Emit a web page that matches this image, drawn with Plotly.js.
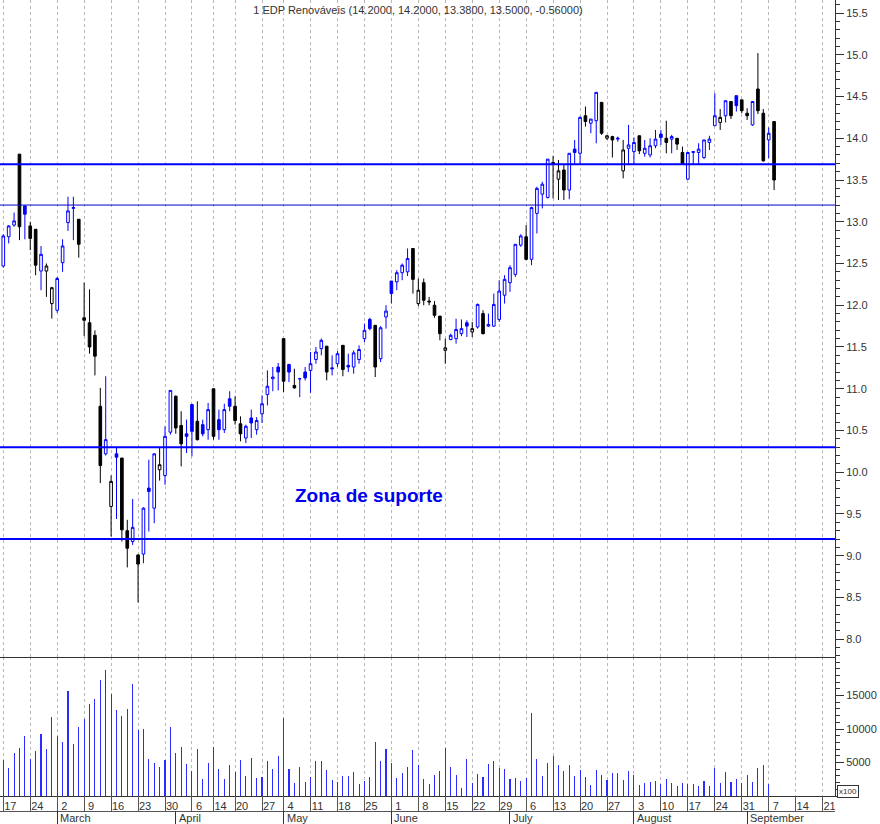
<!DOCTYPE html>
<html><head><meta charset="utf-8">
<script src="https://cdn.plot.ly/plotly-3.0.1.min.js"></script>
<style>html,body{margin:0;padding:0;background:#fff}#chart{width:880px;height:824px}</style>
</head><body><div id="chart"></div>
<script>
// ---- data: one entry per trading day, 17 Feb 2020 .. 8 Sep 2020 ----
const openP = [12.47,12.82,12.96,13.81,13.19,12.95,12.91,12.41,12.41,12.02,
11.94,12.51,12.99,13.16,13.03,11.85,11.79,11.64,10.79,10.22,
9.59,10.22,10.17,9.30,9.17,9.01,9.02,9.81,9.57,10.03,
9.96,10.48,10.91,10.56,10.46,10.81,10.61,10.57,10.51,11.00,
10.63,10.51,10.88,10.79,10.58,10.41,10.65,10.51,10.70,10.93,
11.12,11.26,11.60,11.29,11.04,11.12,11.20,11.22,11.35,11.48,
11.51,11.25,11.30,11.52,11.28,11.26,11.35,11.60,11.83,11.76,
11.36,11.86,12.29,12.28,12.39,12.40,12.68,12.02,12.27,12.05,
12.00,11.87,11.46,11.59,11.60,11.66,11.79,11.68,11.74,11.90,
11.75,11.75,11.83,12.12,12.27,12.37,12.72,12.82,12.55,13.10,
13.33,13.29,13.71,13.51,13.62,13.38,13.87,13.82,14.27,14.18,
14.21,14.43,14.00,14.02,13.99,13.61,13.88,13.84,14.03,13.82,
13.80,13.91,14.05,14.00,13.99,14.00,13.83,13.51,13.83,13.83,
13.77,13.95,14.15,14.19,14.27,14.44,14.51,14.46,14.30,14.16,
14.59,14.30,13.98,14.20];
const highP = [12.85,12.96,13.11,13.81,13.19,13.00,12.91,12.71,12.50,12.22,
12.34,12.79,13.30,13.30,13.03,12.27,12.19,11.70,11.01,11.15,
9.96,10.30,10.17,9.43,9.68,9.01,9.58,10.15,10.23,10.30,
10.55,10.98,10.92,10.73,10.63,10.82,10.85,10.63,10.83,11.00,
10.75,10.82,10.97,10.91,10.67,10.57,10.75,10.66,10.92,11.22,
11.26,11.31,11.60,11.30,11.24,11.13,11.26,11.44,11.50,11.60,
11.51,11.40,11.45,11.52,11.42,11.46,11.52,11.78,11.85,11.76,
11.75,12.00,12.29,12.42,12.50,12.68,12.68,12.32,12.32,12.10,
12.05,11.87,11.60,11.66,11.84,11.83,11.82,11.80,12.02,11.94,
11.90,12.14,12.30,12.36,12.48,12.73,12.85,12.96,13.18,13.42,
13.48,13.75,13.79,13.74,13.68,13.82,13.98,14.26,14.38,14.23,
14.55,14.43,14.04,14.03,14.02,13.98,14.16,14.01,14.03,13.98,
14.00,14.10,14.10,14.21,14.04,14.00,13.90,13.83,13.84,13.94,
13.98,14.03,14.54,14.35,14.45,14.44,14.51,14.46,14.36,14.44,
15.02,14.35,14.13,14.20];
const lowP = [12.45,12.74,12.94,12.78,12.79,12.66,12.36,12.18,12.10,11.84,
11.91,12.40,12.89,12.78,12.57,11.63,11.42,11.16,9.87,10.20,
9.23,9.44,9.17,8.86,9.13,8.44,8.91,9.29,9.39,9.90,
9.85,10.45,10.46,10.07,10.23,10.19,10.38,10.43,10.39,10.39,
10.39,10.47,10.73,10.57,10.37,10.35,10.41,10.45,10.59,10.80,
10.97,10.98,10.96,11.08,11.00,10.90,11.10,10.95,11.30,11.40,
11.10,11.16,11.26,11.15,11.20,11.18,11.30,11.56,11.70,11.14,
11.32,11.72,12.02,12.18,12.30,12.35,12.14,11.99,12.00,12.00,
11.85,11.58,11.30,11.58,11.54,11.63,11.62,11.62,11.72,11.65,
11.74,11.74,11.80,12.02,12.16,12.34,12.70,12.54,12.48,12.86,
13.16,13.28,13.28,13.26,13.26,13.27,13.68,13.68,14.14,14.06,
13.94,14.04,13.98,13.77,13.96,13.52,13.69,13.69,13.81,13.78,
13.77,13.88,13.92,13.82,13.82,13.86,13.68,13.50,13.69,13.69,
13.75,13.86,14.15,14.10,14.19,14.23,14.32,14.30,14.22,14.15,
14.29,13.72,13.76,13.38];
const closeP = [12.83,12.95,13.01,12.94,13.09,12.80,12.48,12.61,12.47,12.21,
12.32,12.71,13.13,13.17,12.73,11.82,11.50,11.39,10.08,10.39,
9.89,10.18,9.31,9.09,9.34,8.90,9.57,9.77,10.22,10.09,
10.43,10.98,10.53,10.34,10.43,10.49,10.39,10.46,10.75,10.43,
10.51,10.75,10.79,10.62,10.46,10.55,10.59,10.62,10.82,11.03,
11.14,11.20,11.09,11.20,11.01,11.12,11.13,11.30,11.44,11.58,
11.20,11.24,11.42,11.23,11.26,11.43,11.47,11.70,11.72,11.26,
11.73,11.93,12.14,12.39,12.48,12.56,12.31,12.18,12.06,12.04,
11.88,11.66,11.49,11.64,11.71,11.72,11.75,11.72,12.01,11.66,
11.77,12.01,12.17,12.31,12.45,12.73,12.83,12.55,13.17,13.40,
13.45,13.75,13.70,13.61,13.38,13.82,13.83,14.25,14.20,14.23,
14.55,14.06,14.03,13.98,14.00,13.86,13.92,13.95,13.85,13.88,
13.91,13.99,14.01,13.95,14.02,13.93,13.69,13.83,13.84,13.87,
13.98,13.99,14.27,14.25,14.45,14.27,14.39,14.33,14.27,14.44,
14.33,13.73,14.06,13.50];
const volume = [5300,4150,6400,7150,8980,5550,6740,9280,7040,11720,
8980,8030,15600,7740,10320,11520,13750,14450,17340,18830,
15200,12860,12010,13010,16740,9880,10020,5550,5000,4300,
5400,10320,6400,7340,4850,3760,6990,2610,5000,7290,
4050,2610,4600,3510,5300,3010,5600,2760,2910,5150,
4050,5990,11570,4050,1870,4300,2160,2910,5150,5150,
3910,2410,2110,3010,3010,3610,1770,2260,2860,8030,
5150,7040,5000,2760,3460,4300,6890,4650,2560,1720,
3110,3760,7140,4300,3160,1170,5550,1970,3260,2860,
4750,5150,4200,4000,2560,2710,2260,2710,12460,5550,
3010,5000,5990,4600,3760,4600,3010,3910,2860,1570,
3860,3160,2460,3410,3460,2410,3760,3160,1570,1870,
2110,2260,1770,2560,1970,1420,1970,1720,1720,1420,
2260,1470,4200,1970,3560,2110,2560,1970,3110,2110,
4150,4600,1720,null];

// tick labels
const weekStart = [0,5,10,15,20,25,30,35,39,43,48,52,57,62,67,72,77,82,87,92,97,102,107,112,117,122,127,132,137,142,147,152];
const dayLabels = ['17','24','2','9','16','23','30','6','14','20','27','4','11','18','25','1','8','15','22','29','6','13','20','27','3','10','17','24','31','7','14','21'];
const monthStart = [10,32,52,72,94,117,138];
const monthLabels = ['March','April','May','June','July','August','September'];
const volTicks = [5000,10000,15000];
const priceLevels = [13.69,13.20,10.30,9.20];
const levelColors = ['#0000ff','#0000cc','#0000ff','#0000ff'];
const levelWidths = [2,1,2,2];
const zoneText = 'Zona de suporte';
const zonePos = {x:67.8, y:9.72};
const seriesName = '1 EDP Renováveis';

// ---- build ----
const n = closeP.length;
const idx = Array.from({length:n},(_,i)=>i);
const groups = {blueH:[],blueF:[],blackH:[],blackF:[]};
for(let i=0;i<n;i++){
  const up = i===0 ? true : closeP[i] >= closeP[i-1];
  const hollow = closeP[i] >= openP[i];
  groups[(up?'blue':'black')+(hollow?'H':'F')].push(i);
}
const styles = {
  blueH:{line:'#0000ff',fill:'#ffffff'},
  blueF:{line:'#0000ff',fill:'#0000ff'},
  blackH:{line:'#000000',fill:'#ffffff'},
  blackF:{line:'#000000',fill:'#000000'}
};
const traces = [];
for(const k of Object.keys(groups)){
  const g = groups[k];
  const st = {line:{color:styles[k].line,width:1},fillcolor:styles[k].fill};
  traces.push({type:'candlestick', xaxis:'x2', yaxis:'y',
    x:g.map(i=>idx[i]), open:g.map(i=>openP[i]), high:g.map(i=>highP[i]),
    low:g.map(i=>lowP[i]), close:g.map(i=>closeP[i]),
    increasing:st, decreasing:st, whiskerwidth:0, hoverinfo:'skip'});
}
traces.push({type:'bar', xaxis:'x', yaxis:'y2', x:idx, y:volume, width:0.2,
  marker:{color:'#2b2bff', line:{width:0}}, hoverinfo:'skip'});
traces.push({type:'scatter', xaxis:'x3', yaxis:'y2', x:[0], y:[0], mode:'markers', marker:{opacity:0}, hoverinfo:'skip'});
traces.push({type:'scatter', xaxis:'x4', yaxis:'y2', x:[0], y:[0], mode:'markers', marker:{opacity:0}, hoverinfo:'skip'});

const L = n-1;
const chg = closeP[L]-closeP[L-1];
const titleText = `${seriesName} (${openP[L].toFixed(4)}, ${highP[L].toFixed(4)}, ${lowP[L].toFixed(4)}, ${closeP[L].toFixed(4)}, ${chg.toFixed(5)})`;

const H = 824, W = 880;
const plotRight = 835/W;
const xRange = [-0.612, 154.3];
const gridCol = '#b8b8b8';
const gridDash = '3px,3px';
const axCol = '#333333';

const shapes = priceLevels.map((v,i)=>({type:'line', xref:'paper', x0:0, x1:plotRight, yref:'y', y0:v, y1:v,
  line:{color:levelColors[i], width:levelWidths[i]}, layer:'above'}));

const annotations = monthLabels.map((m,i)=>({text:m, x:monthStart[i], xref:'x', xanchor:'left', xshift:1,
  y:6/H, yref:'paper', yanchor:'middle', showarrow:false, font:{size:11,color:'#333'}}));
annotations.push({text:zoneText, x:zonePos.x, xref:'x2', y:zonePos.y, yref:'y', xanchor:'center', yanchor:'middle', showarrow:false,
  font:{family:'Liberation Sans, Arial, sans-serif', size:19, color:'#0000ee', weight:'bold'}});
annotations.push({text:'x100', x:848/W, xref:'paper', xanchor:'center', y:(H-791)/H, yref:'paper', yanchor:'middle', showarrow:false,
  font:{size:8,color:'#333'}, bordercolor:'#333', borderwidth:1, borderpad:1, bgcolor:'#fff'});

const layout = {
  width:W, height:H, margin:{l:0,r:0,t:0,b:0},
  paper_bgcolor:'#fff', plot_bgcolor:'#fff', showlegend:false,
  font:{family:'Liberation Sans, Arial, sans-serif', size:11, color:'#333'},
  title:{text:titleText, x:0.475, xanchor:'center', xref:'paper', y:1-10/H, yanchor:'middle', font:{size:11,color:'#333'}},
  bargap:0,
  xaxis:{domain:[0,plotRight], range:xRange, anchor:'y2', tickmode:'array', tickvals:weekStart, ticktext:dayLabels,
    ticks:'', showline:true, linecolor:axCol, linewidth:1, showgrid:true, gridcolor:gridCol, griddash:gridDash, gridwidth:1,
    zeroline:false, ticklabelshift:7, tickfont:{size:11,color:'#333'}, fixedrange:true},
  xaxis2:{domain:[0,plotRight], range:xRange, matches:'x', anchor:'y', tickmode:'array', tickvals:weekStart,
    showticklabels:false, ticks:'', showline:true, linecolor:axCol, linewidth:1, showgrid:true, gridcolor:gridCol,
    griddash:gridDash, gridwidth:1, zeroline:false, rangeslider:{visible:false}},
  xaxis3:{overlaying:'x', anchor:'free', position:(H-811)/H, range:xRange, tickmode:'array', tickvals:weekStart,
    ticks:'inside', ticklen:15, tickcolor:'#555', showticklabels:false, showline:true, linecolor:'#555', showgrid:false, zeroline:false},
  xaxis4:{overlaying:'x', anchor:'free', position:0, range:xRange, tickmode:'array', tickvals:monthStart,
    ticks:'inside', ticklen:13, tickcolor:axCol, showticklabels:false, showline:false, showgrid:false, zeroline:false},
  yaxis:{domain:[(H-657)/H,1], range:[7.787,15.656], side:'right', anchor:'x2', tickmode:'linear', tick0:0, dtick:0.5,
    tickformat:'.1f', ticks:'outside', ticklen:8, tickcolor:axCol, showline:true, linecolor:axCol, showgrid:false, zeroline:false,
    minor:{dtick:0.1, tick0:0, ticks:'outside', ticklen:4, tickcolor:axCol, showgrid:false}, tickfont:{size:11,color:'#333'}},
  yaxis2:{domain:[(H-796)/H,(H-657)/H], range:[0,20746], side:'right', anchor:'x', tickmode:'array', tickvals:volTicks,
    ticktext:volTicks.map(String), ticks:'outside', ticklen:8, tickcolor:axCol, showline:true, linecolor:axCol, showgrid:false, zeroline:false,
    minor:{dtick:1000, tick0:0, ticks:'outside', ticklen:4, tickcolor:axCol, showgrid:false}, tickfont:{size:11,color:'#333'}},
  shapes:shapes, annotations:annotations
};
Plotly.newPlot('chart', traces, layout, {staticPlot:true, displayModeBar:false});
</script></body></html>
